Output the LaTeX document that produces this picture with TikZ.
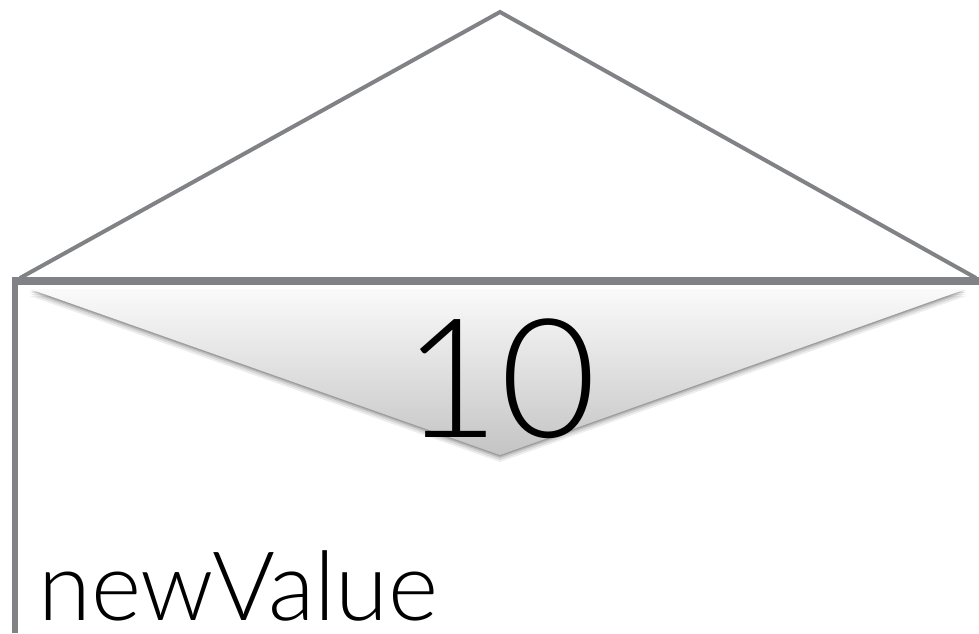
\documentclass[tikz,border=0pt]{standalone}
\usepackage{fontspec}
\setmainfont{Liberation Sans}
\newfontfamily\lightfont{Lato Light}
\definecolor{linegray}{RGB}{128,130,134}
\definecolor{shadetop}{RGB}{250,250,250}
\definecolor{shadebot}{RGB}{196,196,196}
\tikzset{
  roofline/.style={draw=linegray, line width=4pt, line join=miter},
  barline/.style={draw=linegray, line width=8pt},
  postline/.style={draw=linegray, line width=6pt},
  bigtext/.style={font=\lightfont\fontsize{166}{166}\selectfont, inner sep=0pt, text depth=0pt, text=black},
  labeltext/.style={font=\lightfont\fontsize{96}{96}\selectfont, inner sep=0pt, text depth=0pt, text=black}
}
\begin{document}
\begin{tikzpicture}[x=1pt,y=-1pt]
\useasboundingbox (0,0) rectangle (979,633);
% coordinates
\coordinate (roofL) at (20,278);
\coordinate (apex) at (500,12);
\coordinate (roofR) at (976,278);
\coordinate (barL) at (12,281);
\coordinate (barR) at (979,281);
\coordinate (postT) at (15,277);
\coordinate (postB) at (15,633);
\coordinate (triL) at (30,289);
\coordinate (triR) at (966,289);
\coordinate (triB) at (500,455);
% roof
\draw[roofline] (roofL) -- (apex) -- (roofR);
% shadow of inverted triangle
\foreach \d/\o in {7/0.07,5/0.09,3/0.13,1.5/0.16}{
  \fill[black, opacity=\o] ([yshift=-\d pt]triL) -- ([yshift=-\d pt]triB) -- ([yshift=-\d pt]triR) -- cycle;
}
% inverted gradient triangle
\shade[top color=shadetop, bottom color=shadebot] (triL) -- (triB) -- (triR) -- cycle;
% bar and post
\draw[barline] (barL) -- (barR);
\draw[postline] (postT) -- (postB);
% texts
\node[bigtext, anchor=base] (value) at (500,437) {10};
\node[labeltext, anchor=base west] (name) at (38,620) {newValue};
\end{tikzpicture}
\end{document}
